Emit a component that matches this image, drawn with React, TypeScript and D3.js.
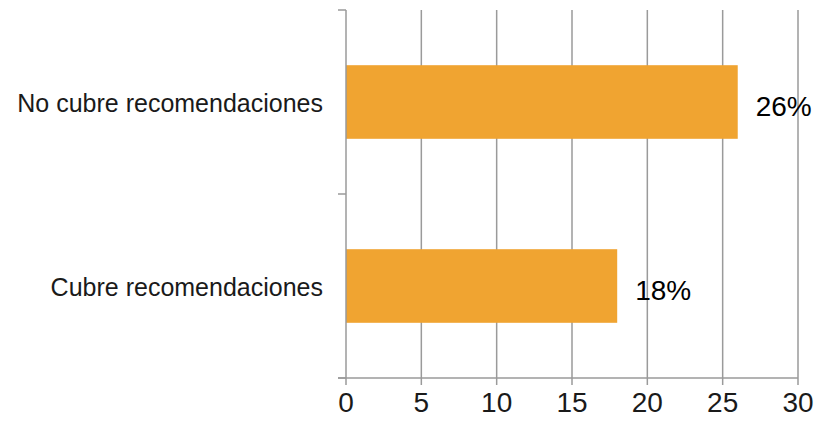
import React, { useEffect } from "react";
import * as d3 from "d3";

// Categories (top to bottom) and their percentages
const categories: string[] = ["No cubre recomendaciones", "Cubre recomendaciones"];
const values: number[] = [26, 18];
const valueLabels: string[] = ["26%", "18%"];
const xTicks: number[] = [0, 5, 10, 15, 20, 25, 30];

const WIDTH = 818;
const HEIGHT = 425;
const margin = { left: 346, right: 20, top: 10, bottom: 47 };

const BAR_COLOR = "#F0A431";
const GRID_COLOR = "#9a9a9a";
const FONT = "'Liberation Sans', Arial, sans-serif";

export default function App() {
  useEffect(() => {
    document.body.style.margin = "0";
  }, []);

  const x = d3
    .scaleLinear()
    .domain([0, 30])
    .range([margin.left, WIDTH - margin.right]);

  const y = d3
    .scaleBand<string>()
    .domain(categories)
    .range([margin.top, HEIGHT - margin.bottom])
    .paddingInner(0.6)
    .paddingOuter(0.3);

  const step = y.step();
  const bandEdges = d3.range(categories.length + 1).map((i) => margin.top + i * step);
  const y0 = margin.top;
  const y1 = HEIGHT - margin.bottom;

  return (
    <svg width={WIDTH} height={HEIGHT} style={{ display: "block", background: "#fff" }}>
      {/* vertical gridlines */}
      {xTicks
        .filter((t) => t !== 0)
        .map((t) => (
          <line key={`g${t}`} x1={x(t)} x2={x(t)} y1={y0} y2={y1} stroke={GRID_COLOR} strokeWidth={1.5} />
        ))}

      {/* bars */}
      {categories.map((c, i) => (
        <rect
          key={c}
          x={x(0)}
          y={y(c)!}
          width={x(values[i]) - x(0)}
          height={y.bandwidth()}
          fill={BAR_COLOR}
        />
      ))}

      {/* category axis */}
      <line x1={x(0)} x2={x(0)} y1={y0} y2={y1} stroke={GRID_COLOR} strokeWidth={1.5} />
      {bandEdges.map((e, i) => (
        <line key={`yt${i}`} x1={x(0) - 8} x2={x(0)} y1={e} y2={e} stroke={GRID_COLOR} strokeWidth={1.5} />
      ))}
      {categories.map((c) => (
        <text
          key={`l${c}`}
          x={323}
          y={y(c)! + y.bandwidth() / 2 + 10}
          textAnchor="end"
          fontFamily={FONT}
          fontSize={25}
          fill="#1a1a1a"
        >
          {c}
        </text>
      ))}

      {/* value axis */}
      <line x1={x(0) - 8} x2={x(30)} y1={y1} y2={y1} stroke={GRID_COLOR} strokeWidth={1.5} />
      {xTicks.map((t) => (
        <g key={`xt${t}`}>
          <line x1={x(t)} x2={x(t)} y1={y1} y2={y1 + 7} stroke={GRID_COLOR} strokeWidth={1.5} />
          <text x={x(t)} y={412} textAnchor="middle" fontFamily={FONT} fontSize={28} fill="#1a1a1a">
            {t}
          </text>
        </g>
      ))}

      {/* value labels */}
      {categories.map((c, i) => (
        <text
          key={`v${c}`}
          x={x(values[i]) + 18}
          y={y(c)! + y.bandwidth() / 2 + 14}
          fontFamily={FONT}
          fontSize={28}
          fill="#000"
        >
          {valueLabels[i]}
        </text>
      ))}
    </svg>
  );
}
